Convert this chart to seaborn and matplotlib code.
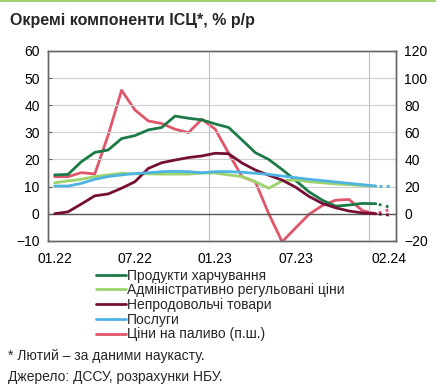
import matplotlib
matplotlib.use("Agg")
import matplotlib.pyplot as plt
from matplotlib.lines import Line2D
import seaborn as sns
import pandas as pd

# monthly data, 01.22 .. 01.24 (fact) + 02.24 (nowcast)
months = ['01.22', '02.22', '03.22', '04.22', '05.22', '06.22', '07.22', '08.22', '09.22',
          '10.22', '11.22', '12.22', '01.23', '02.23', '03.23', '04.23', '05.23', '06.23',
          '07.23', '08.23', '09.23', '10.23', '11.23', '12.23', '01.24', '02.24']
tick_labels = ['01.22', '07.22', '01.23', '07.23', '02.24']

food = [14.3, 14.5, 19.2, 22.6, 23.5, 27.7, 28.8, 30.9, 31.8, 36.0, 35.2, 34.6, 33.1,
        31.8, 27.2, 22.5, 20.0, 16.3, 12.3, 8.1, 5.0, 2.8, 3.2, 3.8, 3.7]
admin = [11.4, 12.1, 12.7, 13.7, 14.3, 14.9, 14.7, 14.7, 14.6, 14.6, 14.6, 15.0, 15.0,
         14.3, 13.7, 11.8, 9.4, 12.1, 12.5, 11.8, 11.4, 11.0, 10.7, 10.4, 10.2]
nonfood = [0.0, 0.7, 3.6, 6.6, 7.3, 9.4, 11.8, 16.7, 18.8, 19.8, 20.7, 21.3, 22.3,
           22.1, 18.7, 16.1, 14.2, 12.4, 9.8, 6.4, 3.8, 2.2, 1.0, 0.3, 0.0]
services = [10.2, 10.2, 11.2, 12.7, 13.7, 14.3, 14.8, 15.1, 15.5, 15.6, 15.5, 15.1, 15.5,
            15.5, 15.3, 14.9, 14.5, 13.9, 13.3, 12.7, 12.2, 11.7, 11.2, 10.7, 10.2]
fuel = [27.3, 27.3, 30.3, 29.3, 58.0, 91.0, 76.5, 68.4, 66.5, 62.3, 59.8, 69.7, 62.3,
        44.6, 27.3, 23.5, 0.0, -20.7, -10.5, -0.5, 6.0, 10.0, 10.5, 2.3, 0.0]
# nowcast for 02.24
nowcast = {'food': 2.5, 'admin': 10.2, 'nonfood': -0.5, 'services': 10.2, 'fuel': 3.0}

names = {'food': 'Продукти харчування',
         'admin': 'Адміністративно регульовані ціни',
         'nonfood': 'Непродовольчі товари',
         'services': 'Послуги',
         'fuel': 'Ціни на паливо (п.ш.)'}
colors = {'food': '#1C7A47', 'admin': '#9DD36B', 'nonfood': '#760F35',
          'services': '#4DB4E2', 'fuel': '#E0566B'}

n_fact = len(food)
df = pd.DataFrame({'x': range(n_fact), 'food': food, 'admin': admin,
                   'nonfood': nonfood, 'services': services, 'fuel': fuel})

sns.set_style('white')
plt.rcParams['font.family'] = ['Liberation Sans', 'DejaVu Sans']
plt.rcParams['font.size'] = 10

fig = plt.figure(figsize=(4.36, 3.86), dpi=100)
ax = fig.add_axes([0.110, 0.376, 0.798, 0.492])
ax2 = ax.twinx()

lw = 2.0
handles = []
for key in ['food', 'admin', 'nonfood', 'services', 'fuel']:
    a = ax2 if key == 'fuel' else ax
    sns.lineplot(data=df, x='x', y=key, ax=a, color=colors[key], linewidth=lw,
                 legend=False)
    ext = pd.DataFrame({'x': [n_fact - 1, n_fact], key: [df[key].iloc[-1], nowcast[key]]})
    sns.lineplot(data=ext, x='x', y=key, ax=a, color=colors[key], linewidth=lw,
                 linestyle=(1.5, (1, 1.6)), legend=False)
    handles.append(Line2D([], [], color=colors[key], linewidth=lw, label=names[key]))

for a in (ax, ax2):
    a.set_xlabel('')
    a.set_ylabel('')

ax.set_xlim(-0.5, len(months) - 0.5)
ax.set_ylim(-10, 60)
ax2.set_ylim(-20, 120)
ax.set_yticks(range(-10, 61, 10))
ax2.set_yticks(range(-20, 121, 20))
ax.set_xticks([months.index(m) for m in tick_labels])
ax.set_xticklabels(tick_labels)

ax.set_zorder(ax2.get_zorder() + 1)
ax.patch.set_visible(False)

for y in range(10, 61, 10):
    ax.axhline(y, color='#CFCFCF', linewidth=0.8, zorder=0)
ax.axhline(0, color='#555555', linewidth=1.0, zorder=1)
for b in [11.5, 23.5]:
    ax.axvline(b, color='#BDBDBD', linewidth=0.8, zorder=0)

for a in (ax, ax2):
    for s in a.spines.values():
        s.set_color('#666666')
        s.set_linewidth(1.0)
ax.tick_params(axis='y', direction='in', length=3, color='#666666', pad=6,
               labelsize=10, labelcolor='black')
ax.tick_params(axis='x', length=0, pad=8, labelsize=10, labelcolor='black')
ax2.tick_params(axis='y', direction='in', length=3, color='#666666', pad=6,
                labelsize=10, labelcolor='black')

leg = fig.legend(handles=handles, loc='upper left', bbox_to_anchor=(0.221, 0.304),
                 frameon=False, fontsize=10, handlelength=2.1, handletextpad=0.1,
                 labelspacing=0.05, borderpad=0, borderaxespad=0)

fig.text(0.023, 0.947, 'Окремі компоненти ІСЦ*, % р/р', fontsize=11.5,
         fontweight='bold', va='center', ha='left')
fig.text(0.018, 0.077, '* Лютий – за даними наукасту.', fontsize=10, va='center')
fig.text(0.018, 0.023, 'Джерело: ДССУ, розрахунки НБУ.', fontsize=10, va='center')
fig.add_artist(Line2D([0, 1], [0.997, 0.997], color='#93C955', linewidth=1.2,
                      transform=fig.transFigure))

fig.savefig('out.png', dpi=100)
